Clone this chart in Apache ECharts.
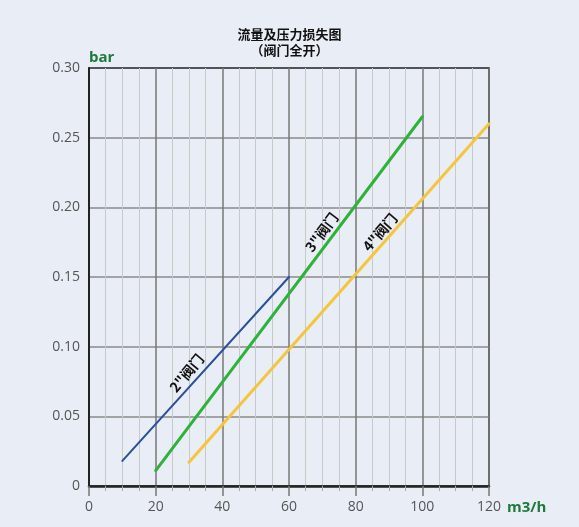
<!DOCTYPE html>
<html>
<head>
<meta charset="utf-8">
<script src="https://cdn.jsdelivr.net/npm/echarts@6/dist/echarts.min.js"></script>
<style>
html, body { margin: 0; padding: 0; background: #e9eef6; }
#main { width: 579px; height: 527px; }
</style>
</head>
<body>
<div id="main"></div>
<script>
// flow (m3/h) vs pressure loss (bar), valve fully open
var seriesNames = ['2"阀门', '3"阀门', '4"阀门']
var flow2 = [10, 60]
var loss2 = [0.018, 0.15]
var flow3 = [20, 100]
var loss3 = [0.011, 0.265]
var flow4 = [30, 120]
var loss4 = [0.017, 0.26]
var xTicks = [0, 20, 40, 60, 80, 100, 120]
var yTicks = [0, 0.05, 0.10, 0.15, 0.20, 0.25, 0.30]
// where the valve names sit, in data units
var labelAt = [[29.3, 0.081], [69.8, 0.182], [87.3, 0.182]]

var colors = ['#2a4f9e', '#2fb23a', '#f4c63d']
var widths = [2, 3, 3]
var angles = [50, 53, 49]

function pairs(xs, ys) {
  var out = []
  for (var i = 0; i < xs.length; i++) out.push([xs[i], ys[i]])
  return out
}

var datasets = [pairs(flow2, loss2), pairs(flow3, loss3), pairs(flow4, loss4)]

var series = datasets.map(function (d, i) {
  return {
    name: seriesNames[i],
    type: 'line',
    data: d,
    showSymbol: false,
    silent: true,
    lineStyle: { color: colors[i], width: widths[i], cap: 'round' },
    markPoint: {
      symbol: 'circle',
      symbolSize: 0,
      silent: true,
      data: [{ coord: labelAt[i], value: seriesNames[i] }],
      label: {
        show: true,
        position: 'inside',
        formatter: seriesNames[i],
        rotate: angles[i],
        color: '#111',
        fontSize: 14,
        fontWeight: 'bold',
        fontFamily: 'Noto Sans CJK SC'
      }
    }
  }
})

var chart = echarts.init(document.getElementById('main'))
chart.setOption({
  backgroundColor: '#e9eef6',
  animation: false,
  title: {
    text: '流量及压力损失图\n（阀门全开）',
    left: 'center',
    top: 21,
    textStyle: {
      fontSize: 13,
      fontWeight: 'bold',
      color: '#111',
      lineHeight: 16,
      fontFamily: 'Noto Sans CJK SC'
    }
  },
  grid: {
    left: 89, right: 90, top: 68, bottom: 41,
    show: true,
    borderColor: '#222',
    borderWidth: 1.5,
    backgroundColor: 'transparent'
  },
  xAxis: {
    type: 'value',
    min: 0, max: 120, interval: 20,
    name: 'm3/h',
    nameLocation: 'end',
    nameGap: 16,
    nameTextStyle: {
      color: '#1d7a3b', fontSize: 15, fontWeight: 'bold',
      fontFamily: 'Open Sans', verticalAlign: 'top', padding: [14, 0, 0, 0]
    },
    axisLine: { show: true, onZero: false, lineStyle: { color: '#222', width: 2.5 } },
    axisTick: { show: true, length: 10, lineStyle: { color: '#777', width: 1.5 } },
    minorTick: { show: true, splitNumber: 4, length: 5, lineStyle: { color: '#aaa', width: 1 } },
    axisLabel: {
      color: '#555', fontSize: 14, margin: 14, fontFamily: 'Open Sans',
      formatter: function (v) { return xTicks.indexOf(v) >= 0 ? String(v) : '' }
    },
    splitLine: { show: true, showMinLine: false, lineStyle: { color: '#777', width: 1.5 } },
    minorSplitLine: { show: true, lineStyle: { color: '#c9c9c9', width: 1 } }
  },
  yAxis: {
    type: 'value',
    min: 0, max: 0.30, interval: 0.05,
    name: 'bar',
    nameLocation: 'end',
    nameGap: 3,
    nameTextStyle: {
      color: '#1d7a3b', fontSize: 15, fontWeight: 'bold',
      fontFamily: 'Open Sans', align: 'left'
    },
    axisLine: { show: true, onZero: false, lineStyle: { color: '#222', width: 2 } },
    axisTick: { show: false },
    axisLabel: {
      color: '#555', fontSize: 14, margin: 9, fontFamily: 'Open Sans',
      formatter: function (v) {
        var k = Math.round(v * 100) / 100
        return k === 0 ? '0' : yTicks[Math.round(k / 0.05)].toFixed(2)
      }
    },
    splitLine: { show: true, showMinLine: false, showMaxLine: false, lineStyle: { color: '#8a8a8a', width: 1.5 } }
  },
  series: series
})
</script>
</body>
</html>
